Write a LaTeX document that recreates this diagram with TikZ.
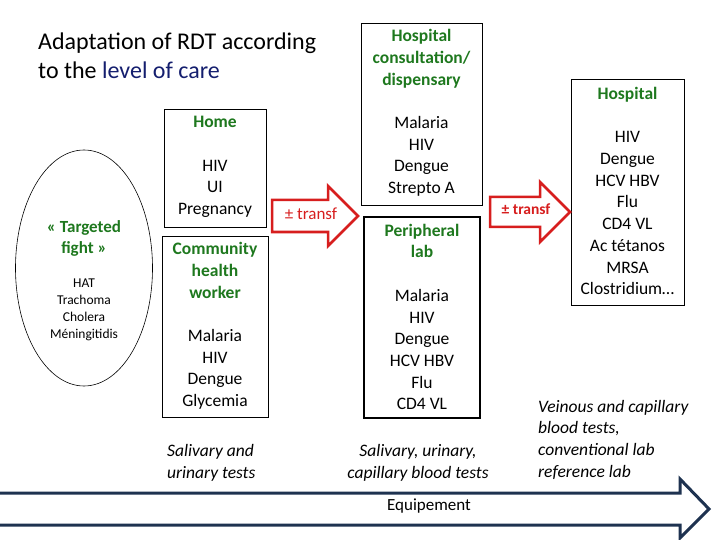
\documentclass[tikz,border=0pt]{standalone}
\usepackage{fontspec}
\setmainfont{Carlito}
\usetikzlibrary{shapes.geometric}
\definecolor{grn}{RGB}{30,120,30}
\definecolor{navy}{RGB}{20,30,110}
\definecolor{arrred}{RGB}{215,30,30}
\definecolor{bignavy}{RGB}{30,50,80}
\begin{document}
\begin{tikzpicture}[x=1pt,y=-1pt,
 box/.style={draw,line width=0.8pt},
 txt/.style={align=center,inner sep=0pt,font=\fontsize{17.5}{21.7}\selectfont},
 hd/.style={text=grn,font=\bfseries},
 itl/.style={inner sep=0pt,font=\fontsize{17.5}{21.7}\selectfont\itshape},
 redarrow/.style={draw=arrred,line width=2.5pt,fill=white,line join=miter}]
\useasboundingbox (0,0) rectangle (720,540);
% title
\node[anchor=west,inner sep=0pt,font=\fontsize{24}{27}\selectfont] (title) at (38,43) {Adaptation of RDT according};
\node[anchor=west,inner sep=0pt,font=\fontsize{24}{27}\selectfont] (title2) at (38,70) {to the \textcolor{navy}{level of care}};
% ellipse
\node[draw,ellipse,minimum width=137pt,minimum height=236pt,line width=0.6pt] (ell) at (84,268) {};
\node[txt,text=grn,font=\fontsize{17}{21}\selectfont\bfseries] (tf) at (84,238) {« Targeted\\fight »};
\node[txt,font=\fontsize{13.5}{17}\selectfont] (dis) at (84,310) {HAT\\Trachoma\\Cholera\\Méningitidis};
% boxes
\node[box,minimum width=102pt,minimum height=118pt] (homebox) at (215,168) {};
\node[txt] (home) at (215,167) {\textcolor{grn}{\bfseries Home}\\[21.7pt]HIV\\UI\\Pregnancy};
\node[box,minimum width=106pt,minimum height=181pt] (chwbox) at (215,326.5) {};
\node[txt] (chw) at (215,326) {\textcolor{grn}{\bfseries Community}\\\textcolor{grn}{\bfseries health}\\\textcolor{grn}{\bfseries worker}\\[21.7pt]Malaria\\HIV\\Dengue\\Glycemia};
\node[box,minimum width=121pt,minimum height=182pt] (hcbox) at (421.5,114) {};
\node[txt] (hc) at (421.5,113) {\textcolor{grn}{\bfseries Hospital}\\\textcolor{grn}{\bfseries consultation/}\\\textcolor{grn}{\bfseries dispensary}\\[21.7pt]Malaria\\HIV\\Dengue\\Strepto A};
\node[draw,line width=2.5pt,minimum width=116pt,minimum height=201pt] (plbox) at (422,317.5) {};
\node[txt] (pl) at (422,317) {\textcolor{grn}{\bfseries Peripheral}\\\textcolor{grn}{\bfseries lab}\\[21.7pt]Malaria\\HIV\\Dengue\\HCV HBV\\Flu\\CD4 VL};
\node[box,minimum width=113pt,minimum height=226pt] (hbox) at (627.5,192) {};
\node[txt] (h) at (627.5,191) {\textcolor{grn}{\bfseries Hospital}\\[21.7pt]HIV\\Dengue\\HCV HBV\\Flu\\CD4 VL\\Ac tétanos\\MRSA\\Clostridium…};
% red arrows
\draw[redarrow] (272,200) -- (328,200) -- (328,186) -- (358,216) -- (328,246) -- (328,232) -- (272,232) -- cycle;
\node[inner sep=0pt,text=arrred,font=\fontsize{17}{18}\selectfont] (t1) at (311,214) {± transf};
\draw[redarrow] (490,197) -- (540,197) -- (540,182) -- (570,212) -- (540,242) -- (540,227) -- (490,227) -- cycle;
\node[inner sep=0pt,text=arrred,font=\fontsize{15.5}{18}\selectfont\bfseries] (t2) at (526,209) {± transf};
% italic texts
\node[itl,anchor=west,align=left] (s1) at (167,463) {Salivary and\\urinary tests};
\node[itl,align=center] (s2) at (418,463) {Salivary, urinary,\\capillary blood tests};
\node[itl,anchor=west,align=left] (s3) at (538,439.5) {Veinous and capillary\\blood tests,\\conventional lab\\reference lab};
% bottom arrow
\draw[draw=bignavy,line width=3pt,fill=white,line join=miter] (0,493) -- (680,493) -- (680,479) -- (709,509) -- (680,538) -- (680,525) -- (0,525);
\node[inner sep=0pt,font=\fontsize{17}{18}\selectfont] (eq) at (429,506) {Equipement};
\end{tikzpicture}
\end{document}
